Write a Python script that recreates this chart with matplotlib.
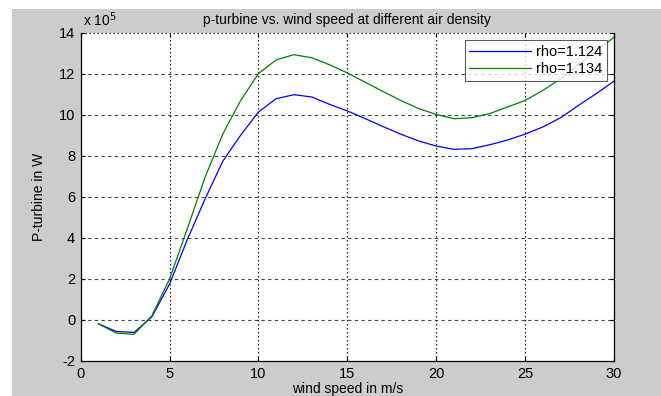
import matplotlib
matplotlib.use("Agg")
import matplotlib.pyplot as plt
from matplotlib.patches import Rectangle

# wind speed (m/s) and turbine power (x 10^5 W)
wind = [1, 2, 3, 4, 5, 6, 7, 8, 9, 10, 11, 12, 13, 14, 15,
        16, 17, 18, 19, 20, 21, 22, 23, 24, 25, 26, 27, 28, 29, 30]
p_1124 = [-0.19, -0.56, -0.61, 0.15, 1.75, 3.92, 5.9, 7.74, 9.0, 10.13,
          10.78, 10.97, 10.86, 10.5, 10.18, 9.81, 9.42, 9.05, 8.72, 8.47,
          8.31, 8.34, 8.53, 8.76, 9.05, 9.4, 9.85, 10.45, 11.02, 11.63]
p_1134 = [-0.19, -0.64, -0.7, 0.2, 2.0, 4.45, 6.96, 9.07, 10.69, 12.0,
          12.67, 12.92, 12.77, 12.43, 12.03, 11.58, 11.13, 10.69, 10.3, 10.01,
          9.8, 9.85, 10.05, 10.37, 10.69, 11.18, 11.75, 12.45, 13.1, 13.77]

plt.rcParams['font.family'] = ['Liberation Sans', 'DejaVu Sans']
plt.rcParams['font.size'] = 10
plt.rcParams['axes.unicode_minus'] = False

fig = plt.figure(figsize=(6.61, 3.96), dpi=100, facecolor='white')
# grey MATLAB figure background, white strip at top/left
fig.patches.append(Rectangle((12/661, 0), 1, 1 - 9/396, transform=fig.transFigure,
                             facecolor='#cccccc', edgecolor='none', zorder=-10))

ax = fig.add_axes([80.7/661, 35/396, (614 - 80.7)/661, (361 - 32.5)/396])
ax.set_facecolor('white')

ax.plot(wind, p_1124, color='#0000ff', lw=0.9, label='rho=1.124')
ax.plot(wind, p_1134, color='#008000', lw=0.9, label='rho=1.134')

ax.set_xlim(0, 30)
ax.set_ylim(-2, 14)
ax.set_xticks(range(0, 31, 5))
ax.set_yticks(range(-2, 15, 2))

# grid: dashed horizontal, dotted vertical like the MATLAB render
for y in range(0, 14, 2):
    ax.axhline(y, color='#444444', lw=0.8, ls=(0, (3, 3)), zorder=0.5)
for x in range(5, 30, 5):
    ax.axvline(x, color='#222222', lw=0.9, ls=(0, (1.2, 2)), zorder=0.5)
ax.axhline(14, color='#222222', lw=0.9, ls=(0, (1.2, 2)), zorder=0.5)

ax.tick_params(direction='in', top=True, right=True, length=3, width=0.8,
               labelsize=10.5, colors='black', pad=4)
for s in ax.spines.values():
    s.set_linewidth(0.9)
ax.spines['top'].set_visible(False)

ax.set_title('p-turbine vs. wind speed at different air density', fontsize=10, pad=6)
ax.set_xlabel('wind speed in m/s', fontsize=10, labelpad=1)
ax.set_ylabel('P-turbine in W', fontsize=10)
ax.yaxis.set_label_coords(-0.066, 0.5)
ax.text(0.005, 1.012, r'x 10$^5$', transform=ax.transAxes, fontsize=10,
        ha='left', va='bottom')

leg = ax.legend(loc='upper right', bbox_to_anchor=(0.987, 0.976), borderaxespad=0,
                fontsize=10.5, frameon=True, fancybox=False, edgecolor='#333333',
                handlelength=4.2, borderpad=0.3, labelspacing=0.25, handletextpad=0.4)
leg.get_frame().set_linewidth(0.8)

fig.savefig('out.png', dpi=100, facecolor=fig.get_facecolor())
